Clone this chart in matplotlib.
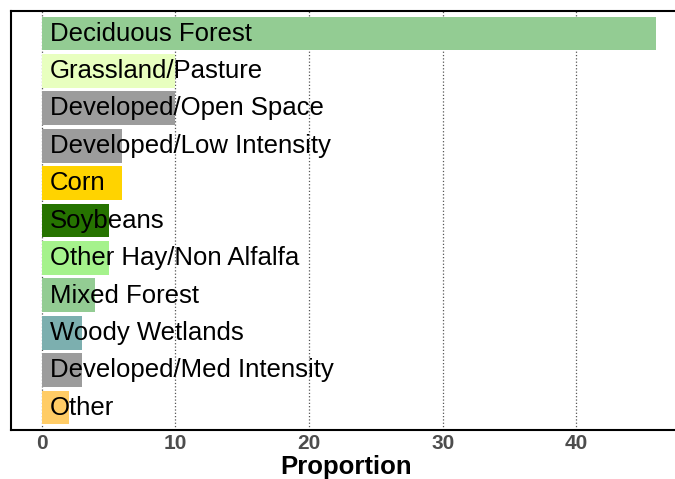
import matplotlib
matplotlib.use("Agg")
import matplotlib.pyplot as plt

categories = ["Deciduous Forest", "Grassland/Pasture", "Developed/Open Space",
              "Developed/Low Intensity", "Corn", "Soybeans", "Other Hay/Non Alfalfa",
              "Mixed Forest", "Woody Wetlands", "Developed/Med Intensity", "Other"]
values = [46, 10, 10, 6, 6, 5, 5, 4, 3, 3, 2]
colors = ["#93cc93", "#e8ffbf", "#9c9c9c", "#9c9c9c", "#ffd300", "#267300",
          "#a5f28c", "#93cc93", "#7cafaf", "#9c9c9c", "#ffcc66"]
xticks = [0, 10, 20, 30, 40]

plt.rcParams['font.family'] = ['Liberation Sans', 'DejaVu Sans']

fig = plt.figure(figsize=(6.75, 4.79), dpi=100)
ax = fig.add_axes([11/675, 1 - 430/479, (675 - 11)/675 + 0.01, (430 - 11)/479])

n = len(categories)
ypos = [n - 1 - i for i in range(n)]
ax.barh(ypos, values, height=0.9, color=colors, zorder=2)
for y, lab in zip(ypos, categories):
    ax.annotate(lab, xy=(0, y), xytext=(6, -5.2), textcoords="offset points",
                ha="left", va="baseline", fontsize=18.5, color="black", zorder=3)

ax.set_xlim(-2.31, 47.9)
ax.set_ylim(-0.6, n - 0.4)
ax.set_xticks(xticks)
ax.set_xticklabels([str(t) for t in xticks], fontsize=15, fontweight="bold", color="#4d4d4d")
ax.set_yticks([])
ax.tick_params(axis="x", length=0, pad=3)
ax.grid(axis="x", linestyle=":", color="#555555", linewidth=0.9, zorder=1)
ax.set_axisbelow(True)
for s in ax.spines.values():
    s.set_color("black")
    s.set_linewidth(1.5)
ax.set_xlabel("Proportion", fontsize=18.5, fontweight="bold", labelpad=1)

fig.savefig("out.png", dpi=100)
